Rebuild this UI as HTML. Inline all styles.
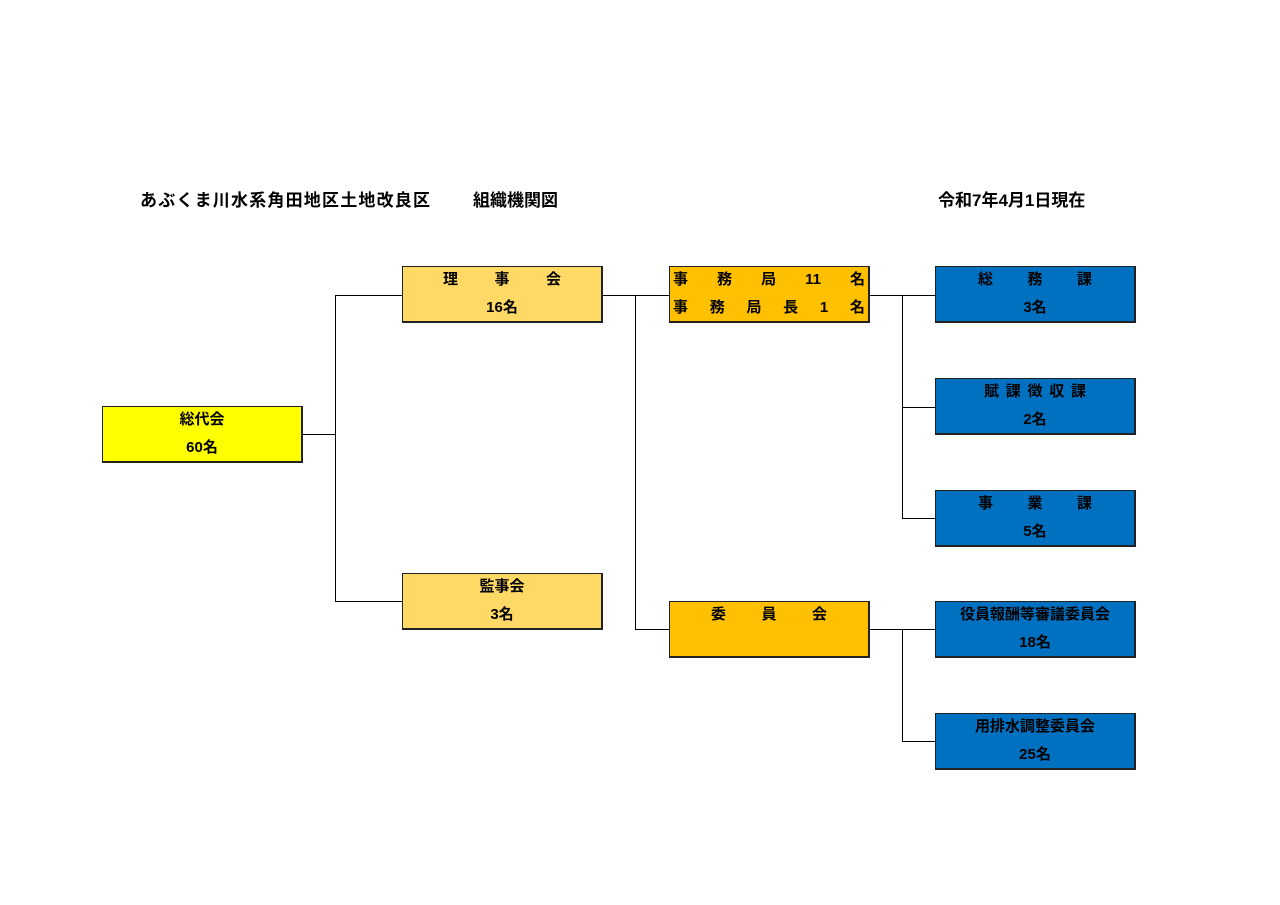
<!DOCTYPE html>
<html><head><meta charset="utf-8"><style>
body{margin:0;background:#fff;width:1280px;height:905px;position:relative;overflow:hidden;font-family:"Liberation Sans","Noto Sans CJK JP",sans-serif;color:#000}
.t{position:absolute;font-size:17px;font-weight:bold;white-space:nowrap}
.b{position:absolute;width:201px;height:57px;border:1px solid #222;border-right-width:2px;border-bottom-width:2px;box-sizing:border-box;font-size:15px;font-weight:bold}
.r{position:absolute;left:0;right:0;display:flex;justify-content:center;line-height:20px}
.sp{justify-content:space-between}
.l{position:absolute;background:#000}
</style></head><body>
<div class="t" style="left:140px;top:186px;letter-spacing:1.2px">あぶくま川水系角田地区土地改良区</div>
<div class="t" style="left:473px;top:186px">組織機関図</div>
<div class="t" style="left:938px;top:186px">令和7年4月1日現在</div>

<div class="b" style="left:102px;top:406px;background:#ffff00"><div class="r" style="top:3px">総代会</div><div class="r" style="top:31px">60名</div></div>

<div class="b" style="left:402px;top:266px;background:#ffd966"><div class="r sp" style="top:3px;padding:0 40px">理<span>事</span><span>会</span></div><div class="r" style="top:31px">16名</div></div>
<div class="b" style="left:402px;top:573px;background:#ffd966"><div class="r" style="top:3px">監事会</div><div class="r" style="top:31px">3名</div></div>

<div class="b" style="left:669px;top:266px;background:#ffc000"><div class="r sp" style="top:3px;padding:0 3px"><span>事</span><span>務</span><span>局</span><span>11</span><span>名</span></div><div class="r sp" style="top:31px;padding:0 3px"><span>事</span><span>務</span><span>局</span><span>長</span><span>1</span><span>名</span></div></div>
<div class="b" style="left:669px;top:601px;background:#ffc000"><div class="r sp" style="top:3px;padding:0 41px"><span>委</span><span>員</span><span>会</span></div></div>

<div class="b" style="left:935px;top:266px;background:#0070c0"><div class="r sp" style="top:3px;padding:0 42px"><span>総</span><span>務</span><span>課</span></div><div class="r" style="top:31px">3名</div></div>
<div class="b" style="left:935px;top:378px;background:#0070c0"><div class="r sp" style="top:3px;padding:0 48px"><span>賦</span><span>課</span><span>徴</span><span>収</span><span>課</span></div><div class="r" style="top:31px">2名</div></div>
<div class="b" style="left:935px;top:490px;background:#0070c0"><div class="r sp" style="top:3px;padding:0 42px"><span>事</span><span>業</span><span>課</span></div><div class="r" style="top:31px">5名</div></div>
<div class="b" style="left:935px;top:601px;background:#0070c0"><div class="r" style="top:3px">役員報酬等審議委員会</div><div class="r" style="top:31px">18名</div></div>
<div class="b" style="left:935px;top:713px;background:#0070c0"><div class="r" style="top:3px">用排水調整委員会</div><div class="r" style="top:31px">25名</div></div>

<div class="l" style="left:302px;top:434px;width:34px;height:1px"></div>
<div class="l" style="left:335px;top:295px;width:1px;height:307px"></div>
<div class="l" style="left:335px;top:295px;width:67px;height:1px"></div>
<div class="l" style="left:335px;top:601px;width:67px;height:1px"></div>

<div class="l" style="left:603px;top:295px;width:66px;height:1px"></div>
<div class="l" style="left:635px;top:295px;width:1px;height:335px"></div>
<div class="l" style="left:635px;top:629px;width:34px;height:1px"></div>

<div class="l" style="left:870px;top:295px;width:65px;height:1px"></div>
<div class="l" style="left:902px;top:295px;width:1px;height:224px"></div>
<div class="l" style="left:902px;top:407px;width:33px;height:1px"></div>
<div class="l" style="left:902px;top:518px;width:33px;height:1px"></div>

<div class="l" style="left:870px;top:629px;width:65px;height:1px"></div>
<div class="l" style="left:902px;top:629px;width:1px;height:113px"></div>
<div class="l" style="left:902px;top:741px;width:33px;height:1px"></div>
</body></html>
